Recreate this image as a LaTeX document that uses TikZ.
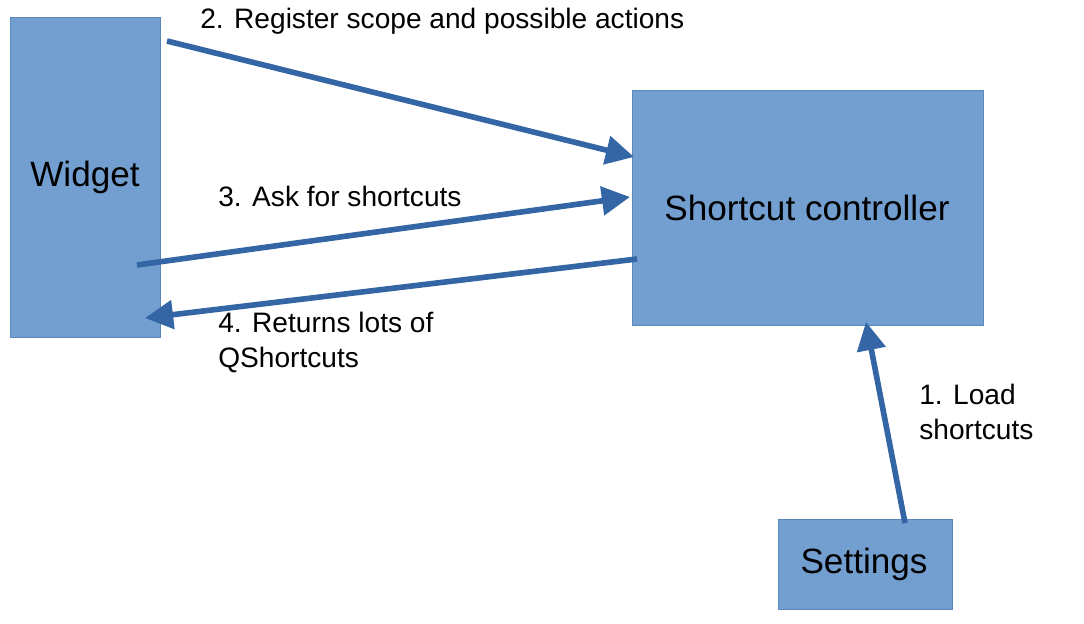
\documentclass[tikz,border=0pt]{standalone}
\usepackage{fontspec}
\setmainfont{Liberation Sans}
\usetikzlibrary{arrows.meta}
\definecolor{boxfill}{HTML}{729FCF}
\definecolor{boxline}{HTML}{5A86B8}
\definecolor{arrowblue}{HTML}{3465A4}
\tikzset{
    block/.style={draw=boxline,fill=boxfill,line width=0.6pt,anchor=north west,inner sep=0pt},
    flow/.style={draw=arrowblue,line width=3.2pt,-{Triangle[length=16pt,width=16pt]}},
    note/.style={anchor=north west,inner sep=0pt,font=\fontsize{16}{20}\selectfont,align=left}
}
\begin{document}
\begin{tikzpicture}[x=0.02cm,y=-0.02cm]
            \useasboundingbox (0,0) rectangle (1084,624);

            % boxes
            \node [block,minimum width=150*0.02cm,minimum height=320*0.02cm] (widget) at (10,17) {};
            \node [block,minimum width=351*0.02cm,minimum height=235*0.02cm] (ctrl) at (632,90) {};
            \node [block,minimum width=174*0.02cm,minimum height=90*0.02cm] (settings) at (778,519) {};

            \node [font=\fontsize{20}{24}\selectfont] (widgetlbl) at (85,177) {Widget};
            \node [font=\fontsize{20}{24}\selectfont] (ctrllbl) at (807,208) {Shortcut controller};
            \node [font=\fontsize{20}{24}\selectfont] (settingslbl) at (864,564) {Settings};

            % arrow ends
            \coordinate (a1) at (167,41);   \coordinate (b1) at (634,157);
            \coordinate (a2) at (137,265);  \coordinate (b2) at (630,197);
            \coordinate (a3) at (637,259);  \coordinate (b3) at (145,318);
            \coordinate (a4) at (905,523);  \coordinate (b4) at (866,322);

            \draw [flow] (a1) -- (b1);
            \draw [flow] (a2) -- (b2);
            \draw [flow] (a3) -- (b3);
            \draw [flow] (a4) -- (b4);

            % labels
            \node [note] (reg) at (200,8) {2. Register scope and possible actions};
            \node [note] (ask) at (218,186) {3. Ask for shortcuts};
            \node [note] (ret) at (218,312) {4. Returns lots of\\QShortcuts};
            \node [note] (load) at (919,384) {1. Load\\shortcuts};
        \end{tikzpicture}
\end{document}
